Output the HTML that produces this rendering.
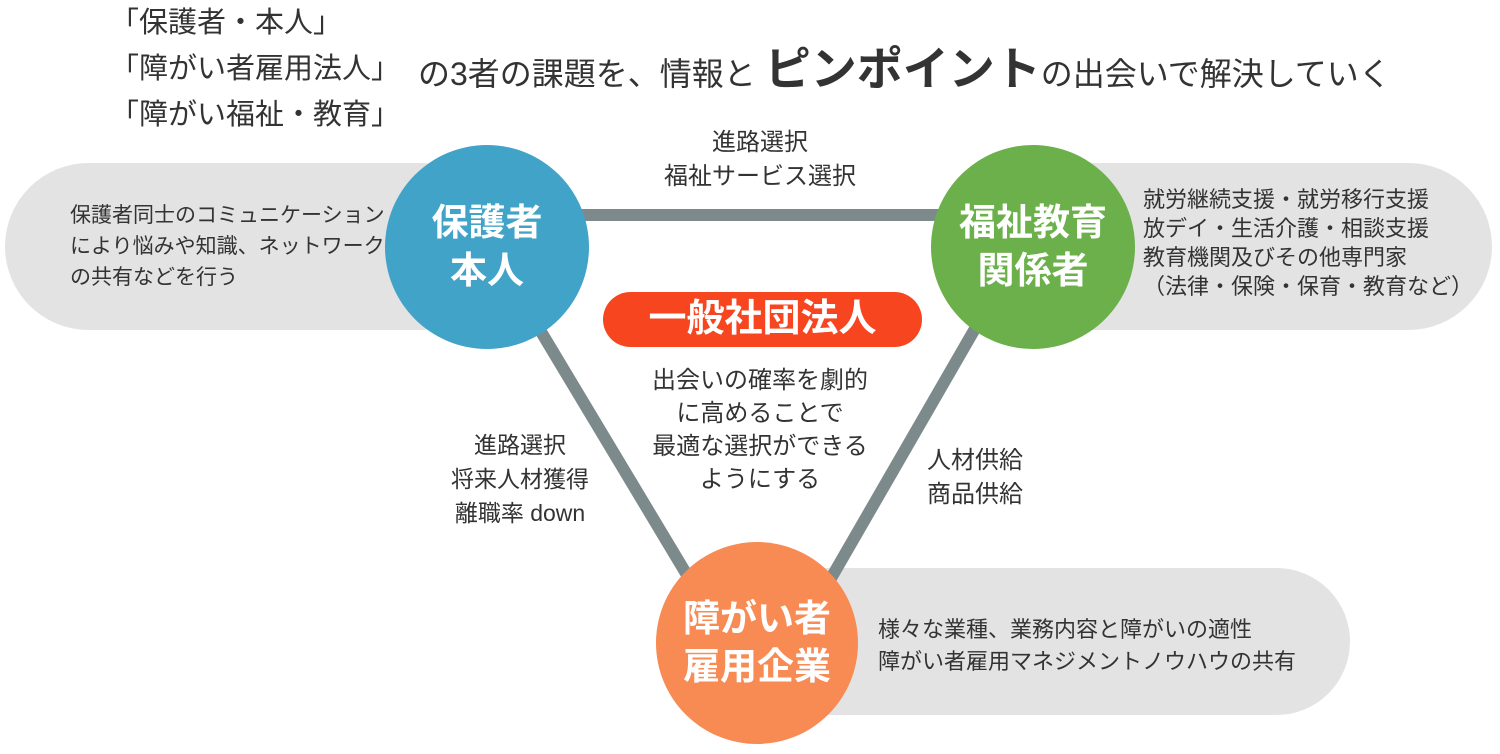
<!DOCTYPE html>
<html><head><meta charset="utf-8"><style>
body{margin:0;width:1500px;height:754px;background:#fff;position:relative;overflow:hidden;font-family:"Liberation Sans","Noto Sans CJK JP",sans-serif;color:#333;}
.a{position:absolute;white-space:nowrap;}
.pill{position:absolute;background:#e3e3e3;}
.c{position:absolute;border-radius:50%;color:#fff;font-weight:bold;text-align:center;display:flex;align-items:center;justify-content:center;font-size:37px;line-height:48px;}
.t{position:absolute;font-size:21px;line-height:31px;white-space:nowrap;}
</style></head><body>
<div class="a" style="left:110px;top:0px;font-size:29px;line-height:46px;">「保護者・本人」<br>「障がい者雇用法人」<br>「障がい福祉・教育」</div>
<div class="a" style="left:418px;top:42px;font-size:32px;line-height:54px;">の3者の課題を、情報と <b style="font-size:46px;">ピンポイント</b>の出会いで解決していく</div>

<div class="pill" style="left:5px;top:163px;width:500px;height:167px;border-radius:84px;"></div>
<div class="pill" style="left:1000px;top:163px;width:492px;height:167px;border-radius:84px;"></div>
<div class="pill" style="left:750px;top:568px;width:600px;height:147px;border-radius:74px;"></div>

<svg class="a" style="left:0;top:0" width="1500" height="754">
<line x1="560" y1="215" x2="960" y2="215" stroke="#7d8a8c" stroke-width="12"/>
<line x1="540" y1="330" x2="690" y2="580" stroke="#7d8a8c" stroke-width="12"/>
<line x1="980" y1="320" x2="830" y2="580" stroke="#7d8a8c" stroke-width="12"/>
</svg>

<div class="t" style="left:70px;top:200px;">保護者同士のコミュニケーション<br>により悩みや知識、ネットワーク<br>の共有などを行う</div>
<div class="t" style="left:1143px;top:185px;font-size:22px;line-height:29px;">就労継続支援・就労移行支援<br>放デイ・生活介護・相談支援<br>教育機関及びその他専門家<br>（法律・保険・保育・教育など）</div>
<div class="t" style="left:878px;top:614px;font-size:22px;line-height:32px;">様々な業種、業務内容と障がいの適性<br>障がい者雇用マネジメントノウハウの共有</div>

<div class="c" style="left:385px;top:145px;width:204px;height:204px;background:#42a3c8;">保護者<br>本人</div>
<div class="c" style="left:931px;top:145px;width:204px;height:204px;background:#6bb04a;">福祉教育<br>関係者</div>
<div class="c" style="left:656px;top:542px;width:202px;height:202px;background:#f88a53;">障がい者<br>雇用企業</div>

<div class="a" style="left:603px;top:292px;width:319px;height:55px;border-radius:28px;background:#f7451f;color:#fff;font-weight:bold;font-size:38px;line-height:55px;text-align:center;">一般社団法人</div>

<div class="a" style="left:600px;top:126px;width:320px;text-align:center;font-size:24px;line-height:34px;">進路選択<br>福祉サービス選択</div>
<div class="a" style="left:600px;top:364px;width:320px;text-align:center;font-size:24px;line-height:33px;">出会いの確率を劇的<br>に高めることで<br>最適な選択ができる<br>ようにする</div>
<div class="a" style="left:420px;top:428px;width:200px;text-align:center;font-size:23px;line-height:34px;">進路選択<br>将来人材獲得<br>離職率 down</div>
<div class="a" style="left:927px;top:444px;font-size:24px;line-height:34px;">人材供給<br>商品供給</div>
</body></html>
